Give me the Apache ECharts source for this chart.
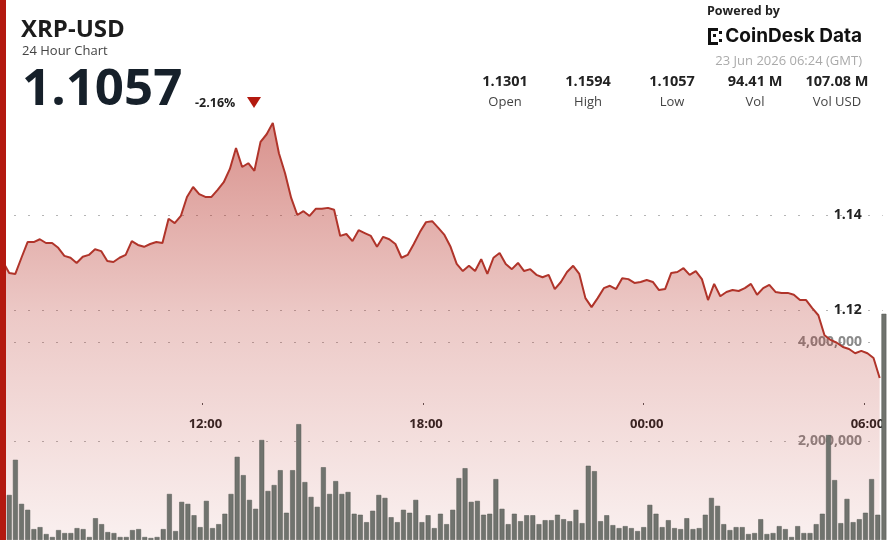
<!DOCTYPE html>
<html>
<head>
<meta charset="utf-8">
<script src="https://cdn.jsdelivr.net/npm/echarts@6/dist/echarts.min.js"></script>
<style>
html, body { margin: 0; padding: 0; background: #fff; }
#main { width: 887px; height: 540px; }
</style>
</head>
<body>
<div id="main"></div>
<script>
// 10 minute steps, 22 Jun 06:30 -> 23 Jun 06:20
const times = [];
for (let i = 0; i < 144; i++) {
  const m = (6 * 60 + 30 + i * 10) % 1440;
  times.push(String(Math.floor(m / 60)).padStart(2, '0') + ':' + String(m % 60).padStart(2, '0'));
}
const tickLabels = ['12:00', '18:00', '00:00', '06:00'];

const prices = [
  1.1301, 1.1278, 1.1276, 1.1310, 1.1343, 1.1343, 1.1349, 1.1341, 1.1341, 1.1331,
  1.1314, 1.1310, 1.1299, 1.1312, 1.1316, 1.1328, 1.1324, 1.1303, 1.1301, 1.1310,
  1.1316, 1.1345, 1.1337, 1.1333, 1.1339, 1.1343, 1.1341, 1.1392, 1.1383, 1.1398,
  1.1438, 1.1459, 1.1444, 1.1438, 1.1438, 1.1453, 1.1469, 1.1497, 1.1541, 1.1501,
  1.1509, 1.1493, 1.1554, 1.1570, 1.1594, 1.1530, 1.1488, 1.1436, 1.1400, 1.1408,
  1.1398, 1.1413, 1.1413, 1.1415, 1.1411, 1.1356, 1.1360, 1.1345, 1.1368, 1.1362,
  1.1356, 1.1333, 1.1354, 1.1349, 1.1339, 1.1310, 1.1316, 1.1339, 1.1364, 1.1385,
  1.1387, 1.1373, 1.1358, 1.1333, 1.1297, 1.1282, 1.1293, 1.1282, 1.1307, 1.1276,
  1.1310, 1.1320, 1.1297, 1.1286, 1.1299, 1.1282, 1.1286, 1.1274, 1.1269, 1.1274,
  1.1244, 1.1259, 1.1280, 1.1293, 1.1276, 1.1225, 1.1206, 1.1225, 1.1246, 1.1251,
  1.1244, 1.1267, 1.1265, 1.1257, 1.1259, 1.1263, 1.1259, 1.1242, 1.1244, 1.1278,
  1.1280, 1.1288, 1.1274, 1.1282, 1.1265, 1.1221, 1.1255, 1.1229, 1.1238, 1.1242,
  1.1240, 1.1246, 1.1255, 1.1232, 1.1246, 1.1253, 1.1238, 1.1236, 1.1236, 1.1232,
  1.1221, 1.1221, 1.1204, 1.1189, 1.1147, 1.1137, 1.1131, 1.1122, 1.1118, 1.1109,
  1.1114, 1.1109, 1.1099, 1.1057
];

const volumes = [
  770000, 910000, 1620000, 730000, 610000, 220000, 260000, 120000, 60000, 200000,
  140000, 140000, 240000, 220000, 60000, 440000, 320000, 160000, 140000, 60000,
  60000, 200000, 220000, 60000, 40000, 60000, 220000, 930000, 180000, 770000,
  730000, 500000, 260000, 790000, 240000, 320000, 530000, 930000, 1680000, 1310000,
  810000, 630000, 2020000, 990000, 1110000, 1410000, 550000, 1410000, 2340000, 1170000,
  870000, 670000, 1470000, 930000, 1190000, 930000, 970000, 530000, 510000, 360000,
  590000, 910000, 850000, 460000, 360000, 610000, 550000, 810000, 360000, 500000,
  240000, 530000, 320000, 610000, 1250000, 1450000, 770000, 790000, 510000, 530000,
  1230000, 630000, 320000, 530000, 380000, 500000, 500000, 320000, 400000, 400000,
  510000, 420000, 380000, 610000, 340000, 1500000, 1390000, 380000, 500000, 300000,
  240000, 280000, 240000, 180000, 260000, 710000, 530000, 260000, 400000, 240000,
  220000, 440000, 220000, 240000, 510000, 850000, 690000, 320000, 200000, 260000,
  260000, 120000, 140000, 420000, 120000, 140000, 280000, 220000, 60000, 280000,
  140000, 140000, 320000, 530000, 2120000, 1210000, 340000, 830000, 360000, 420000,
  550000, 1230000, 510000, 4570000
];

const statValues = ['1.1301', '1.1594', '1.1057', '94.41 M', '107.08 M'];
const statLabels = ['Open', 'High', 'Low', 'Vol', 'Vol USD'];
const statX = [505, 588, 672, 755, 837];

const font = '"Open Sans", "Noto Sans", sans-serif';
const red = '#b3190f';

const graphics = [
  { type: 'rect', shape: { x: 0, y: 0, width: 6, height: 540 }, style: { fill: red }, z: 10 },
  { type: 'text', x: 21, y: 30, style: { text: 'XRP-USD', font: 'bold 24px ' + font, fill: '#1c1c1c', textVerticalAlign: 'middle' } },
  { type: 'text', x: 22, y: 51, style: { text: '24 Hour Chart', font: '13px ' + font, fill: '#444', textVerticalAlign: 'middle' } },
  { type: 'text', x: 22, y: 90, style: { text: '1.1057', font: 'bold 51px ' + font, fill: '#16202a', textVerticalAlign: 'middle' } },
  { type: 'text', x: 195, y: 103, style: { text: '-2.16%', font: 'bold 12.5px ' + font, fill: '#222', textVerticalAlign: 'middle' } },
  { type: 'polygon', shape: { points: [[247, 97], [261, 97], [254, 108]] }, style: { fill: red } },
  { type: 'text', x: 707, y: 11, style: { text: 'Powered by', font: 'bold 12.5px ' + font, fill: '#222', textVerticalAlign: 'middle' } },
  { type: 'rect', shape: { x: 708, y: 28, width: 3, height: 17 }, style: { fill: '#111' } },
  { type: 'rect', shape: { x: 708, y: 28, width: 10, height: 3 }, style: { fill: '#111' } },
  { type: 'rect', shape: { x: 708, y: 42, width: 10, height: 3 }, style: { fill: '#111' } },
  { type: 'rect', shape: { x: 713, y: 34, width: 3, height: 3 }, style: { fill: '#111' } },
  { type: 'rect', shape: { x: 719, y: 31, width: 3, height: 3 }, style: { fill: '#111' } },
  { type: 'rect', shape: { x: 719, y: 39, width: 3, height: 3 }, style: { fill: '#111' } },
  { type: 'text', x: 862, y: 36, style: { text: 'CoinDesk Data', font: 'bold 19px Inter, ' + font, fill: '#111', textAlign: 'right', textVerticalAlign: 'middle' } },
  { type: 'text', x: 862, y: 61, style: { text: '23 Jun 2026 06:24 (GMT)', font: '13px ' + font, fill: '#aaa', textAlign: 'right', textVerticalAlign: 'middle' } }
];
statValues.forEach((v, i) => {
  graphics.push({ type: 'text', x: statX[i], y: 82, style: { text: v, font: 'bold 14.5px ' + font, fill: '#222', textAlign: 'center', textVerticalAlign: 'middle' } });
  graphics.push({ type: 'text', x: statX[i], y: 102, style: { text: statLabels[i], font: '13px ' + font, fill: '#444', textAlign: 'center', textVerticalAlign: 'middle' } });
});

const showTick = (index, value) => tickLabels.includes(value);
const dotted = { color: '#b5b5b5', width: 1.2, type: [2, 12] };

const chart = echarts.init(document.getElementById('main'));

const option = {
  animation: false,
  backgroundColor: '#fff',
  textStyle: { fontFamily: font },
  graphic: graphics,
  grid: [
    { left: -6, right: -3, top: 120, bottom: 135 },
    { left: -6, right: -3, top: 342, bottom: -4 }
  ],
  xAxis: [
    {
      type: 'category', gridIndex: 0, data: times, boundaryGap: true,
      axisLine: { show: false },
      axisTick: { show: true, inside: true, length: 2, interval: showTick, lineStyle: { color: '#555' } },
      axisLabel: { interval: showTick, margin: 13, fontSize: 13, fontWeight: 'bold', color: '#222' },
      splitLine: { show: false }
    },
    {
      type: 'category', gridIndex: 1, data: times, boundaryGap: true,
      axisLine: { show: false }, axisTick: { show: false }, axisLabel: { show: false }
    }
  ],
  yAxis: [
    {
      type: 'value', gridIndex: 0, position: 'right', min: 1.10, max: 1.16, interval: 0.02,
      axisLine: { show: false }, axisTick: { show: false },
      axisLabel: { inside: true, margin: 21, showMinLabel: false, showMaxLabel: false,
        fontSize: 14, fontWeight: 'bold', color: '#222', formatter: v => v.toFixed(2) },
      splitLine: { show: true, showMinLine: false, showMaxLine: false, lineStyle: dotted }
    },
    {
      type: 'value', gridIndex: 1, position: 'right', min: 0, max: 4000000, interval: 2000000,
      axisLine: { show: false }, axisTick: { show: false },
      axisLabel: { inside: true, margin: 25, showMinLabel: false,
        fontSize: 14, fontWeight: 'bold', color: '#8a8a8a',
        formatter: v => v.toLocaleString('en-US') },
      splitLine: { show: true, showMinLine: false, lineStyle: dotted }
    }
  ],
  series: [
    {
      name: 'Price', type: 'line', xAxisIndex: 0, yAxisIndex: 0,
      data: prices, symbol: 'none', clip: false, z: 3,
      lineStyle: { color: '#b0342a', width: 2 },
      areaStyle: {
        origin: 1.07,
        color: {
          type: 'linear', x: 0, y: 0, x2: 0, y2: 1,
          colorStops: [
            { offset: 0, color: 'rgba(180,40,30,0.72)' },
            { offset: 0.45, color: 'rgba(180,40,30,0.36)' },
            { offset: 1, color: 'rgba(180,40,30,0.09)' }
          ]
        }
      }
    },
    {
      name: 'Volume', type: 'bar', xAxisIndex: 1, yAxisIndex: 1,
      data: volumes, barCategoryGap: '20%', clip: false, z: 4,
      itemStyle: { color: '#70736e', borderColor: '#555852', borderWidth: 0.5 }
    }
  ]
};

chart.setOption(option);
window.addEventListener('resize', () => chart.resize());
</script>
</body>
</html>
